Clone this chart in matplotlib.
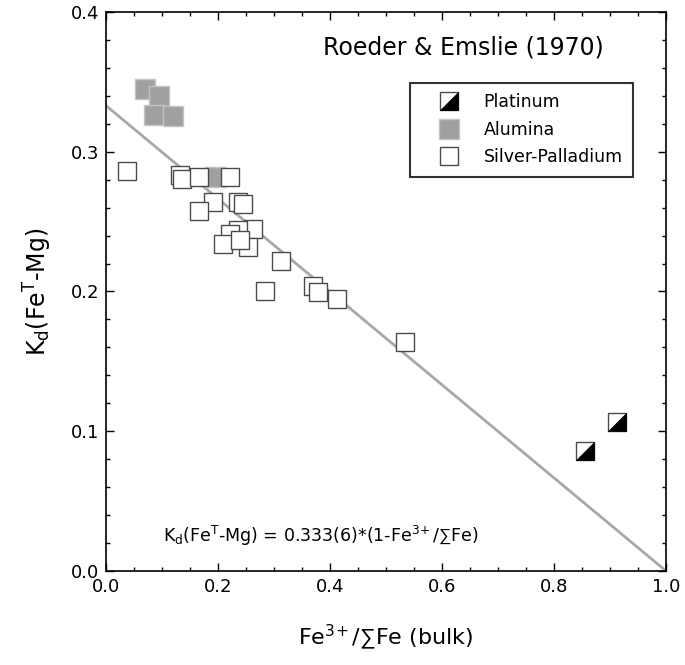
import numpy as np
import matplotlib
matplotlib.use("Agg")
import matplotlib.pyplot as plt
from matplotlib.ticker import MultipleLocator, FormatStrFormatter
from matplotlib.lines import Line2D

# Fe3+/sumFe (bulk) and Kd values
pt_x = [0.855, 0.912]
pt_y = [0.0861, 0.1068]

al_x = [0.0696, 0.0952, 0.0857, 0.119, 0.194]
al_y = [0.3447, 0.340, 0.326, 0.3256, 0.282]

ag_x = [0.038, 0.133, 0.135, 0.1655, 0.221, 0.1916, 0.166, 0.236, 0.245,
        0.263, 0.236, 0.221, 0.209, 0.254, 0.239, 0.313, 0.284, 0.370,
        0.379, 0.4125, 0.534]
ag_y = [0.286, 0.283, 0.2807, 0.2817, 0.2817, 0.264, 0.2578, 0.2637, 0.2624,
        0.245, 0.244, 0.241, 0.234, 0.2318, 0.2369, 0.2218, 0.200, 0.204,
        0.1996, 0.1944, 0.1639]

labels = ['Platinum', 'Alumina', 'Silver-Palladium']
kd0 = 0.333

plt.rcParams['font.family'] = ['DejaVu Sans']
plt.rcParams['mathtext.fontset'] = 'custom'
plt.rcParams['mathtext.rm'] = 'DejaVu Sans'
plt.rcParams['mathtext.it'] = 'DejaVu Sans:italic'
plt.rcParams['mathtext.bf'] = 'DejaVu Sans:bold'
plt.rcParams['mathtext.sf'] = 'Liberation Sans'
plt.rcParams['mathtext.default'] = 'regular'

SUM = r'$\mathsf{∑}$'
FE3 = r'Fe$^{3\!+}$'

fig = plt.figure(figsize=(6.85, 6.65), dpi=100)
ax = fig.add_axes([0.1547, 0.1414, 0.8176, 0.8406])

xx = np.array([0.0, 1.0])
ax.plot(xx, kd0 * (1 - xx), color='#a8a8a8', lw=2, zorder=1)

ms = 13
tri = [(-1, -1), (1, -1), (1, 1), (-1, -1)]
ax.plot(ag_x, ag_y, 's', ms=ms, mfc='white', mec='#4a4a4a', mew=1.0, zorder=3)
ax.plot(al_x, al_y, 's', ms=14.5, mfc='#a0a0a0', mec='#c4c4c4', mew=1.0, zorder=2)
ax.plot(pt_x, pt_y, 's', ms=ms, mfc='white', mec='#4a4a4a', mew=1.0, zorder=3)
ax.plot(pt_x, pt_y, marker=tri, ls='none', ms=ms, mfc='black', mec='black',
        mew=0.5, zorder=4)

ax.set_xlim(0, 1.0)
ax.set_ylim(0, 0.4)
ax.xaxis.set_major_locator(MultipleLocator(0.2))
ax.xaxis.set_minor_locator(MultipleLocator(0.05))
ax.yaxis.set_major_locator(MultipleLocator(0.1))
ax.yaxis.set_minor_locator(MultipleLocator(0.02))
ax.xaxis.set_major_formatter(FormatStrFormatter('%.1f'))
ax.yaxis.set_major_formatter(FormatStrFormatter('%.1f'))
ax.tick_params(which='both', direction='in', top=True, right=True, width=1)
ax.tick_params(which='major', length=6, labelsize=13, pad=5)
ax.tick_params(which='minor', length=3)
for s in ax.spines.values():
    s.set_linewidth(1.2)

ax.set_xlabel(FE3 + '/' + SUM + 'Fe (bulk)', fontsize=16, labelpad=19)
ax.set_ylabel('K$_d$(Fe$^T$-Mg)', fontsize=17, labelpad=12)

ax.text(0.6375, 0.937, 'Roeder & Emslie (1970)', transform=ax.transAxes,
        fontsize=17, ha='center', va='center')
ax.text(0.384, 0.0626,
        'K$_d$(Fe$^T$-Mg) = 0.333(6)*(1-' + FE3 + '/' + SUM + 'Fe)',
        transform=ax.transAxes, fontsize=12.5, ha='center', va='center')

handles = [
    (Line2D([], [], ls='none', marker='s', ms=13, mfc='white', mec='#4a4a4a'),
     Line2D([], [], ls='none', marker=tri, ms=13, mfc='black', mec='black', mew=0.5)),
    Line2D([], [], ls='none', marker='s', ms=14, mfc='#a0a0a0', mec='#c4c4c4'),
    Line2D([], [], ls='none', marker='s', ms=13, mfc='white', mec='#4a4a4a'),
]
leg = ax.legend(handles, labels,
                loc='upper right', bbox_to_anchor=(0.941, 0.873), fontsize=12.5,
                frameon=True, fancybox=False, edgecolor='black',
                handlelength=3.3, handletextpad=0.35, borderpad=0.6,
                labelspacing=0.55, borderaxespad=0)
leg.get_frame().set_linewidth(1.5)

fig.savefig('out.png', dpi=100)
